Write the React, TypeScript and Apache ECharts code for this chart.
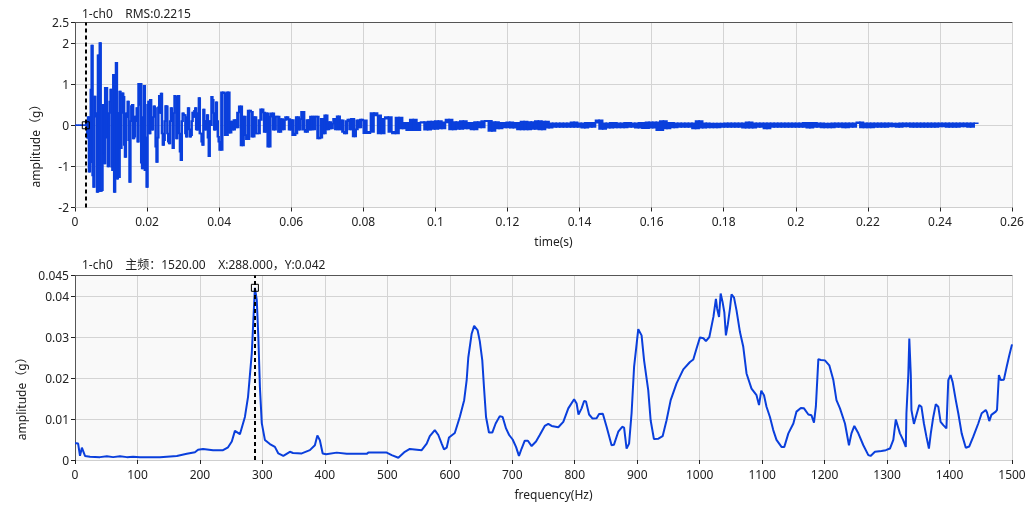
import React, { useEffect, useRef } from "react";
import * as echarts from "echarts";

// ---------- time signal (top chart) ----------
const topTitle = "1-ch0    RMS:0.2215";
const cursorTime = 0.003;
const cursorAmp = 0;

// pre-trigger, 0 .. 0.003 s
const preTriggerValues = [0, 0, 0, 0, 0, 0];
// impact burst, 0.003 .. 0.04 s
const burstValues = [
  0, 0.05, -0.3, 0.2, -1.13, -0.9, 0.87, 1.94, -1.22, -1.5,
  0.7, 0.3, 0.21, -1.62, 1.7, -1.6, 2.0, -1.6, -1.58, 0.5,
  -0.69, -0.93, 0.91, 0.91, -0.3, -1.0, 0.3, 0.58, 0.87, -1.01,
  -1.09, 1.23, -1.62, 1.19, 1.52, -1.3, 0.3, -1.26, 0.82, -0.56,
  0.3, 0.78, 0.69, -0.48, -0.77, 0.29, 0.2, 0.58, -0.36, -1.38,
  0.1, 0.47, 0.5, -0.32, -0.28, 0.21, 0.1, 0.42, -0.4, 1.01,
  0.5, 1.01, -0.91, -1.05, 0.2, 0.96, -1.09, -0.3, -1.5, 0.5,
  0.58, -0.2, 0.62, 0.1, -0.11, 0.2, 0.46, 0.42, -0.52, -0.89,
  -0.3, 0.44, 0.72, 0.3, 0.77, -0.2, -0.48, -0.36, 0.1, 0.47,
  0.46, -0.2, -0.4, -0.44, 0.1, 0.42, 0.2, -0.56, 0.3, 0.72,
  0.69, -0.32, 0.1, 0.72, -0.2, -0.64, -0.85, 0.1, 0.29, 0.25,
  0.25, -0.2, -0.28, 0.2, 0.42, -0.1, -0.28, -0.24, 0.1, 0.31,
  0.2, 0.35, 0.42, -0.1, -0.11, 0.3, 0.66, -0.2, -0.2, -0.4,
  -0.48, 0.38, 0.1, -0.11, 0.1, 0.25, -0.3, -0.75, 0.1, 0.0,
  0.69, 0.62, 0.3, -0.11, -0.1, 0.56, 0.1, -0.28,
];
// decay, 0.04 .. 0.08 s
const decayValues = [
  -0.4, -0.6, 0.8, 0.78, -0.24, 0.8, -0.18, 0.09, -0.11, 0.13,
  -0.05, 0.31, 0.46, -0.49, 0.21, -0.24, -0.34, 0.36, 0.33, -0.28,
  0.2, -0.2, -0.2, 0.13, 0.39, 0.31, -0.16, 0.29, -0.52, 0.21,
  0.29, -0.11, 0.21, 0.21, -0.16, 0.15, -0.1, 0.13, 0.2, 0.15,
  -0.11, 0.13, -0.24, -0.2, 0.2, -0.11, 0.15, 0.33, -0.11, -0.16,
  0.13, -0.11, 0.21, -0.1, 0.21, 0.21, -0.32, -0.3, 0.16, -0.2,
  0.24, -0.1, 0.08, -0.08, 0.04, 0.16, -0.1, 0.22, -0.1, 0.12,
  -0.16, -0.2, 0.1, 0.14, -0.1, 0.16, -0.27, -0.1, 0.12, -0.05,
  0.14,
];
// tail, 0.08 .. 0.25 s
const tailValues = [
  0.12, -0.19, -0.16, 0.3, 0.24, -0.2, 0.16, 0.2, -0.16, -0.2,
  0.19, -0.08, 0.06, -0.12, 0.14, -0.12, 0.06, 0.08, -0.11, 0.09,
  -0.09, 0.1, -0.08, 0.07, 0.14, -0.1, 0.08, -0.09, 0.1, -0.08,
  0.06, -0.1, 0.08, -0.05, 0.1, 0.11, -0.14, 0.08, -0.08, 0.06,
  -0.05, 0.07, -0.06, 0.06, -0.1, 0.09, -0.1, 0.08, -0.09, 0.1,
  -0.1, 0.09, -0.06, 0.05, -0.04, 0.05, -0.04, 0.05, -0.04, 0.07,
  -0.04, 0.05, -0.06, 0.06, -0.04, 0.06, 0.12, -0.09, 0.05, -0.06,
  0.06, -0.05, 0.05, -0.05, 0.06, -0.04, 0.05, -0.06, 0.06, -0.07,
  0.07, -0.06, 0.07,
  -0.12, 0.1, -0.08, 0.06, -0.05, 0.05, -0.04, 0.05, -0.04, 0.05,
  -0.08, 0.1, -0.06, 0.05, -0.05, 0.04, -0.05, 0.04, -0.04, 0.05,
  -0.04, 0.05, -0.04, 0.05, -0.06, 0.07, -0.06, 0.05, -0.04, 0.05,
  -0.08, 0.05, -0.04, 0.05, -0.04, 0.05, -0.04, 0.05, -0.04, 0.05,
  -0.04, 0.06, -0.06, 0.06, -0.04, 0.05, -0.05, 0.04, -0.05, 0.05,
  -0.04, 0.05, -0.05, 0.05, -0.04, 0.05, 0.07, -0.05, 0.05, -0.05,
  0.05, -0.04, 0.05, -0.04, 0.05, -0.03, 0.04, -0.04, 0.05, -0.03,
  0.05, -0.04, 0.05, -0.04, 0.05, -0.04, 0.05, -0.04, 0.05, -0.03,
  0.05, -0.04, 0.05, -0.04, 0.05, -0.03, 0.05, -0.04, 0.05,
];
const signalSegments = [
  { start: 0, end: 0.003, values: preTriggerValues },
  { start: 0.003, end: 0.04, values: burstValues },
  { start: 0.04, end: 0.08, values: decayValues },
  { start: 0.08, end: 0.2505, values: tailValues },
];

// ---------- spectrum (bottom chart) ----------
const bottomTitle = "1-ch0    主频：1520.00    X:288.000，Y:0.042";
const peakFreq = 288;
const peakAmp = 0.042;
const specFreqs = [
  0, 2, 5, 8, 11, 16, 24, 40, 51, 61, 72, 83, 93, 104, 136, 147, 163, 179, 192, 197,
  205, 221, 237, 245, 251, 256, 264, 272, 277, 283, 285.5, 288, 291, 293.5, 296, 299, 304, 312, 320, 325.5,
  333.5, 344, 349, 363, 376, 384, 388, 392, 396.5, 402, 419, 435, 467, 469.5, 499, 507, 517.6, 528, 536, 555,
  563, 568, 576, 581.6, 587, 590.7, 595, 598.7, 608, 616, 623, 627, 629.6, 635, 639, 644.6, 648, 652, 654.7, 658,
  662.7, 668, 673.4, 680, 684.6, 690, 695, 700.6, 706, 710.7, 715, 720, 725, 731, 738, 744, 752, 757.7, 763, 773.7,
  781.7, 789.7, 799, 803, 806, 811, 815, 818, 823, 828.6, 835, 839, 845, 851, 859, 862.7, 869.7, 876, 879, 883,
  887, 891, 895, 898, 901.7, 907, 911, 917.7, 921.5, 926.8, 934, 940.7, 947, 953.6, 963, 973.8, 984.5, 989.8, 995, 1000.5,
  1006, 1010, 1015.5, 1022, 1026, 1028, 1031, 1033.6, 1036.7, 1039.5, 1042, 1045, 1048.5, 1051, 1055, 1059, 1064.5, 1069.8, 1075, 1083,
  1091, 1095, 1098.6, 1103, 1107, 1112.5, 1117.8, 1123, 1131, 1135.5, 1142, 1150, 1155, 1162, 1167, 1174, 1179, 1183, 1186, 1190,
  1194, 1200.5, 1207.5, 1214, 1219, 1224.6, 1232.6, 1239, 1243, 1247.6, 1254, 1262, 1270, 1273.6, 1280.6, 1291, 1298, 1304.6, 1310, 1314,
  1320.6, 1325.6, 1330, 1331, 1334, 1335.6, 1338, 1339, 1343, 1347, 1351.5, 1355, 1359, 1363, 1367, 1370, 1374, 1378, 1382, 1385.7,
  1390, 1395, 1398, 1401.6, 1405, 1410, 1414, 1419.4, 1426, 1431.6, 1438, 1446, 1451.5, 1458, 1460, 1463.6, 1467, 1474, 1476, 1479,
  1482, 1487, 1491.4, 1495.6, 1500,
];
const specAmps = [
  0.0041, 0.0041, 0.004, 0.001, 0.003, 0.001, 0.0008, 0.0007, 0.0009, 0.0007, 0.0009, 0.0007, 0.0008, 0.00065, 0.00065, 0.0008, 0.001, 0.0015, 0.0019, 0.0025,
  0.0027, 0.0024, 0.0024, 0.0031, 0.0045, 0.0071, 0.0063, 0.0105, 0.0154, 0.026, 0.034, 0.042, 0.039, 0.03, 0.0178, 0.009, 0.0049, 0.0039, 0.0032, 0.0016,
  0.001, 0.002, 0.0017, 0.0016, 0.0024, 0.0036, 0.006, 0.0048, 0.0016, 0.0014, 0.0018, 0.0015, 0.0015, 0.0018, 0.0018, 0.0012, 0.00056, 0.002, 0.0027, 0.0024,
  0.004, 0.0058, 0.0073, 0.0061, 0.004, 0.0026, 0.003, 0.0055, 0.0066, 0.0105, 0.0146, 0.0195, 0.025, 0.0308, 0.0327, 0.0316, 0.029, 0.0243, 0.0178, 0.0105,
  0.0067, 0.0067, 0.0089, 0.0107, 0.0105, 0.0077, 0.0061, 0.005, 0.0032, 0.001, 0.0028, 0.0047, 0.0047, 0.0034, 0.0045, 0.0061, 0.0083, 0.0088, 0.0083, 0.008,
  0.0093, 0.0126, 0.0148, 0.0138, 0.0111, 0.0126, 0.0144, 0.0143, 0.0111, 0.0101, 0.0102, 0.0112, 0.0113, 0.0081, 0.0036, 0.0037, 0.0069, 0.0081, 0.0079, 0.0028,
  0.004, 0.0114, 0.0227, 0.0268, 0.0319, 0.0304, 0.0243, 0.017, 0.0097, 0.0051, 0.0052, 0.0058, 0.0097, 0.0146, 0.0187, 0.0221, 0.0239, 0.0245, 0.0272, 0.0299,
  0.0297, 0.029, 0.03, 0.0349, 0.0393, 0.0369, 0.0349, 0.0406, 0.0385, 0.036, 0.0304, 0.033, 0.0369, 0.0404, 0.0396, 0.0365, 0.0312, 0.0276, 0.0211, 0.0174,
  0.0158, 0.0134, 0.0169, 0.0158, 0.013, 0.0105, 0.0073, 0.0049, 0.0032, 0.0032, 0.0065, 0.0089, 0.0118, 0.0127, 0.0126, 0.0111, 0.0109, 0.0091, 0.013, 0.0246,
  0.0244, 0.0243, 0.0231, 0.0195, 0.0146, 0.0126, 0.0089, 0.0036, 0.0065, 0.0083, 0.0065, 0.0036, 0.0012, 0.001, 0.002, 0.0022, 0.0024, 0.0028, 0.0049, 0.0099,
  0.0065, 0.0049, 0.0032, 0.0114, 0.0208, 0.0296, 0.0207, 0.0122, 0.0088, 0.011, 0.0134, 0.013, 0.0089, 0.0057, 0.0028, 0.0065, 0.0105, 0.0136, 0.013, 0.0093,
  0.0085, 0.0077, 0.0195, 0.0207, 0.019, 0.0146, 0.0114, 0.0065, 0.003, 0.0033, 0.0057, 0.0089, 0.0114, 0.0122, 0.0116, 0.0095, 0.011, 0.0118, 0.0122, 0.0207,
  0.0195, 0.0196, 0.0227, 0.0255, 0.0282,
];

const yName = "amplitude（g）";
const FONT = "'Noto Sans', 'Noto Sans CJK SC', sans-serif";
const LINE_COLOR = "#0a3fdc";

// [time, value, sample spacing, next value] : each sample-to-sample stroke of the dense trace
function buildSignal() {
  const pts: [number, number, number][] = [];
  signalSegments.forEach((seg) => {
    const n = seg.values.length;
    const step = (seg.end - seg.start) / n;
    seg.values.forEach((v, i) => pts.push([seg.start + i * step, v, step]));
  });
  return pts.map((p, i) => [p[0], p[1], p[2], i + 1 < pts.length ? pts[i + 1][1] : p[1]]);
}

function axisCommonX(gridIndex: number, min: number, max: number, interval: number, name: string) {
  return {
    type: "value",
    gridIndex,
    min,
    max,
    interval,
    name,
    nameLocation: "middle",
    nameGap: 28,
    nameTextStyle: { color: "#222", fontSize: 12, padding: [0, 0, 0, 20] },
    axisLine: { show: true, onZero: false, lineStyle: { color: "#cfcfcf" } },
    axisTick: { show: true, length: 4, lineStyle: { color: "#222" } },
    axisLabel: { color: "#222", fontSize: 12, margin: 8, formatter: (v: number) => String(v) },
    splitLine: { show: true, lineStyle: { color: "#d4d4d4" } },
  };
}
function topBorder(gridIndex: number, min: number, max: number) {
  return {
    type: "value",
    gridIndex,
    min,
    max,
    position: "top",
    axisLine: { show: true, onZero: false, lineStyle: { color: "#555" } },
    axisTick: { show: false },
    axisLabel: { show: false },
    splitLine: { show: false },
  };
}
function axisCommonY(gridIndex: number, min: number, max: number, interval: number) {
  return {
    type: "value",
    gridIndex,
    min,
    max,
    interval,
    name: yName,
    nameLocation: "middle",
    nameGap: 30,
    nameTextStyle: { color: "#222", fontSize: 12, padding: [0, 56, 0, 0] },
    axisLine: { show: true, lineStyle: { color: "#555" } },
    axisTick: { show: true, length: 4, lineStyle: { color: "#222" } },
    axisLabel: { color: "#222", fontSize: 12, margin: 6 },
    splitLine: { show: true, lineStyle: { color: "#d4d4d4" } },
  };
}

export default function App() {
  const ref = useRef<HTMLDivElement>(null);
  useEffect(() => {
    if (!ref.current) return;
    const chart = echarts.init(ref.current, undefined, { renderer: "svg" });
    const marker = {
      symbol: "rect",
      symbolSize: 7,
      itemStyle: { color: "rgba(0,0,0,0)", borderColor: "#000", borderWidth: 1 },
      label: { show: false },
    };
    const cursorLine = (x: number, y0: number, y1: number) => ({
      silent: true,
      symbol: "none",
      label: { show: false },
      lineStyle: { type: [4, 3], color: "#000", width: 2 },
      data: [[{ coord: [x, y0] }, { coord: [x, y1] }]],
    });
    const STROKE = 1.6;
    const option = {
      animation: false,
      textStyle: { fontFamily: FONT },
      title: [
        { text: topTitle, left: 77, top: 2, textStyle: { fontSize: 12, fontWeight: "normal", color: "#222", fontFamily: FONT } },
        { text: bottomTitle, left: 77, top: 253, textStyle: { fontSize: 12, fontWeight: "normal", color: "#222", fontFamily: FONT } },
      ],
      grid: [
        { left: 75, top: 22.5, width: 937, height: 185, show: true, backgroundColor: "#f9f9f9", borderWidth: 0 },
        { left: 75, top: 275.5, width: 937, height: 184.5, show: true, backgroundColor: "#f9f9f9", borderWidth: 0 },
      ],
      xAxis: [
        axisCommonX(0, 0, 0.26, 0.02, "time(s)"),
        axisCommonX(1, 0, 1500, 100, "frequency(Hz)"),
        topBorder(0, 0, 0.26),
        topBorder(1, 0, 1500),
      ],
      yAxis: [axisCommonY(0, -2, 2.5, 1), axisCommonY(1, 0, 0.045, 0.01)],
      series: [
        {
          type: "custom",
          xAxisIndex: 0,
          yAxisIndex: 0,
          data: buildSignal(),
          encode: { x: 0, y: 1 },
          clip: true,
          renderItem: (params: any, api: any) => {
            const t = api.value(0);
            const v = api.value(1);
            const w = api.value(2);
            const vn = api.value(3);
            const a = api.coord([t, Math.max(v, vn)]);
            const b = api.coord([t + w, Math.min(v, vn)]);
            return {
              type: "rect",
              shape: {
                x: a[0] - STROKE / 2,
                y: a[1] - STROKE / 2,
                width: b[0] - a[0] + STROKE,
                height: b[1] - a[1] + STROKE,
              },
              style: { fill: LINE_COLOR },
            };
          },
          markLine: cursorLine(cursorTime, -2, 2.5),
          markPoint: { ...marker, data: [{ coord: [cursorTime, cursorAmp] }] },
        },
        {
          type: "line",
          xAxisIndex: 1,
          yAxisIndex: 1,
          data: specFreqs.map((f, i) => [f, specAmps[i]]),
          showSymbol: false,
          lineStyle: { color: LINE_COLOR, width: 2 },
          markLine: cursorLine(peakFreq, 0, 0.045),
          markPoint: { ...marker, data: [{ coord: [peakFreq, peakAmp] }] },
        },
      ],
    };
    chart.setOption(option as any);
    return () => chart.dispose();
  }, []);
  return <div ref={ref} style={{ position: "fixed", left: 0, top: 0, width: 1031, height: 507 }} />;
}
